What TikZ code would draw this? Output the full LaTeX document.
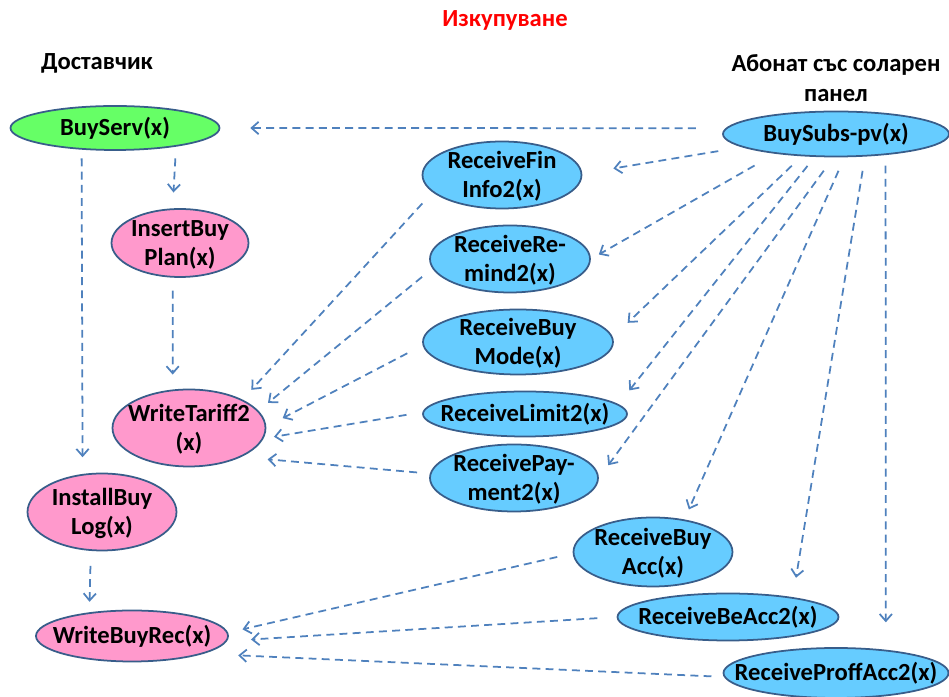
\documentclass[tikz,border=0pt]{standalone}
\usepackage{fontspec}
\setmainfont{Carlito}
\usetikzlibrary{arrows.meta,shapes.geometric}

% text in an oval: no width, no height, so the oval keeps its given size
\newcommand{\ovaltxt}[1]{\makebox[0pt]{\smash{\raisebox{-4.7pt}{\begin{tabular}{@{}c@{}}#1\end{tabular}}}}}

\begin{document}
\begin{tikzpicture}[every text node part/.style={align=center},
    oval/.style={ellipse, draw=ovalline, line width=1pt, inner sep=0pt,
      font=\fontsize{14}{16.5}\selectfont\bfseries},
    head/.style={font=\fontsize{14}{17}\selectfont\bfseries},
    flow/.style={->, draw=flowcolor, line width=1pt, dash pattern=on 4.5pt off 3pt},
    >={Straight Barb[length=4pt,width=7pt]}]

\definecolor{servcolor}{RGB}{102,255,102}
\definecolor{writecolor}{RGB}{255,153,204}
\definecolor{recvcolor}{RGB}{102,204,255}
\definecolor{ovalline}{RGB}{56,93,138}
\definecolor{flowcolor}{RGB}{79,129,189}

    \useasboundingbox (0,0) rectangle (18.98,13.94);

    %% headings
    \node[head, text=red] (title) at (10.10,13.54) {Изкупуване};
    \node[head] (supplier) at (1.94,12.68) {Доставчик};
    \node[head] (subscriber) at (16.72,12.38) {Абонат със соларен\\панел};

    %% supplier side
    \node[oval, fill=servcolor, minimum width=4.18cm, minimum height=.88cm] (serv) at (2.30,11.38) {\ovaltxt{BuyServ(x)}};
    \node[oval, fill=writecolor, minimum width=2.74cm, minimum height=1.36cm] (plan) at (3.60,9.08) {\ovaltxt{InsertBuy\\Plan(x)}};
    \node[oval, fill=writecolor, minimum width=3.06cm, minimum height=1.54cm] (tariff) at (3.78,5.38) {\ovaltxt{WriteTariff2\\(x)}};
    \node[oval, fill=writecolor, minimum width=2.98cm, minimum height=1.54cm] (log) at (2.04,3.70) {\ovaltxt{InstallBuy\\Log(x)}};
    \node[oval, fill=writecolor, minimum width=3.84cm, minimum height=1.02cm] (rec) at (2.64,1.22) {\ovaltxt{WriteBuyRec(x)}};

    %% subscriber side
    \node[oval, fill=recvcolor, minimum width=4.52cm, minimum height=.90cm] (subs) at (16.72,11.26) {\ovaltxt{BuySubs-pv(x)}};
    \node[oval, fill=recvcolor, minimum width=3.18cm, minimum height=1.34cm] (fin) at (10.04,10.44) {\ovaltxt{ReceiveFin\\Info2(x)}};
    \node[oval, fill=recvcolor, minimum width=3.20cm, minimum height=1.34cm] (remind) at (10.20,8.76) {\ovaltxt{ReceiveRe-\\mind2(x)}};
    \node[oval, fill=recvcolor, minimum width=3.80cm, minimum height=1.30cm] (mode) at (10.36,7.10) {\ovaltxt{ReceiveBuy\\Mode(x)}};
    \node[oval, fill=recvcolor, minimum width=4.08cm, minimum height=.90cm] (limit) at (10.50,5.66) {\ovaltxt{ReceiveLimit2(x)}};
    \node[oval, fill=recvcolor, minimum width=3.36cm, minimum height=1.34cm] (pay) at (10.28,4.38) {\ovaltxt{ReceivePay-\\ment2(x)}};
    \node[oval, fill=recvcolor, minimum width=3.18cm, minimum height=1.38cm] (acc) at (13.06,2.90) {\ovaltxt{ReceiveBuy\\Acc(x)}};
    \node[oval, fill=recvcolor, minimum width=4.42cm, minimum height=.94cm] (beacc) at (14.56,1.60) {\ovaltxt{ReceiveBeAcc2(x)}};
    \node[oval, fill=recvcolor, minimum width=4.50cm, minimum height=1.00cm] (proff) at (16.72,0.48) {\ovaltxt{ReceiveProffAcc2(x)}};

    % supplier chain
    \draw[flow, shorten <=17pt, shorten >=17pt] (subs.177) -- (serv.east);
    \draw[flow, shorten <=6.7pt, shorten >=9pt] (serv.-17) -- (plan.102);
    \draw[flow, shorten <=5pt, shorten >=9.5pt] (serv.213) -- (log.117);
    \draw[flow, shorten <=7.4pt, shorten >=8.5pt] (plan.258) -- (tariff.113);
    \draw[flow, shorten <=8.5pt, shorten >=6pt] (log.254) -- (rec.151);

    % from the subscriber
    \draw[flow, shorten <=13.7pt, shorten >=17.9pt] (subs.188) -- (fin.1.5);
    \draw[flow, shorten <=13.5pt, shorten >=5.2pt] (subs.198) -- (remind.east);
    \draw[flow, shorten <=7.8pt, shorten >=11.7pt] (subs.213) -- (mode.3);
    \draw[flow, shorten <=6.5pt, shorten >=10pt] (subs.227) -- (limit.6);
    \draw[flow, shorten <=9.4pt, shorten >=9pt] (subs.264) -- (pay.east);
    \draw[flow, shorten <=8.4pt, shorten >=6.2pt] (subs.290) -- (acc.46);
    \draw[flow, shorten <=8.2pt, shorten >=11.2pt] (subs.322) -- (beacc.17);
    \draw[flow, shorten <=6pt, shorten >=15.6pt] (subs.337) -- (proff.25);

    % into the tariff
    \draw[flow, shorten <=8.6pt, shorten >=7.5pt] (fin.194) -- (tariff.28);
    \draw[flow, shorten <=7.5pt, shorten >=7pt] (remind.187) -- (tariff.14);
    \draw[flow, shorten <=9.8pt, shorten >=10.5pt] (mode.182) -- (tariff.1);
    \draw[flow, shorten <=9.2pt, shorten >=6pt] (limit.179) -- (tariff.352);
    \draw[flow, shorten <=7.3pt, shorten >=15pt] (pay.177) -- (tariff.331);

    % into the record
    \draw[flow, shorten <=9pt, shorten >=8.4pt] (acc.181) -- (rec.2);
    \draw[flow, shorten <=11pt, shorten >=13.6pt] (beacc.west) -- (rec.357);
    \draw[flow, shorten <=7.1pt, shorten >=19.8pt] (proff.182) -- (rec.346);
  \end{tikzpicture}
\end{document}
